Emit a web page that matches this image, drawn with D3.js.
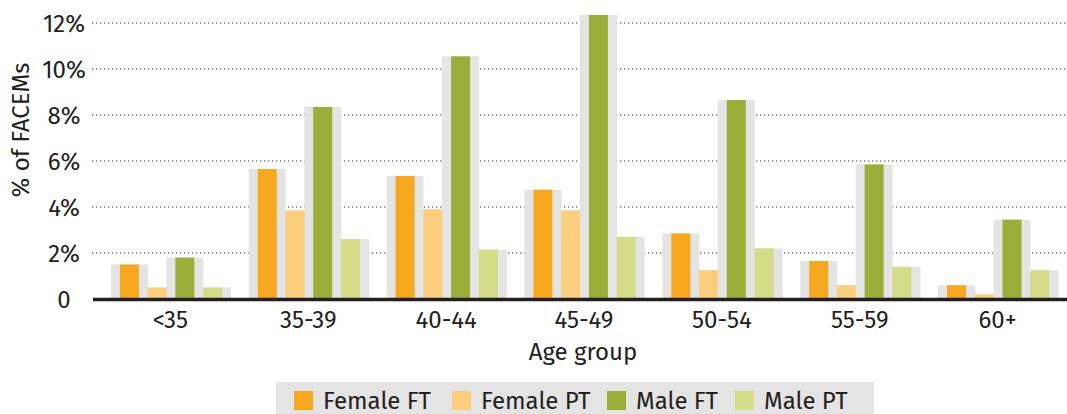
<!DOCTYPE html>
<html><head><meta charset="utf-8">
<script src="https://cdn.jsdelivr.net/npm/d3@7"></script>
<style>
html,body{margin:0;padding:0;background:#fff;}
svg text{font-family:"Fira Sans","Open Sans","Noto Sans",sans-serif;fill:#231f20;}
</style></head>
<body><svg id="c" width="1067" height="414"></svg>
<script>
const categories = ["<35","35-39","40-44","45-49","50-54","55-59","60+"];
const seriesNames = ["Female FT","Female PT","Male FT","Male PT"];
const femaleFT = [1.5, 5.65, 5.35, 4.75, 2.85, 1.65, 0.6];
const femalePT = [0.5, 3.85, 3.9, 3.85, 1.25, 0.6, 0.2];
const maleFT   = [1.8, 8.35, 10.55, 12.35, 8.65, 5.85, 3.45];
const malePT   = [0.5, 2.6, 2.15, 2.7, 2.2, 1.4, 1.25];
const yTicks = [0, 2, 4, 6, 8, 10, 12];
const yTickLabels = ["0","2%","4%","6%","8%","10%","12%"];
const colors = ["#f7a81e","#fccf7e","#9bae3a","#d3dc87"];
const values = [femaleFT, femalePT, maleFT, malePT];
const FS = 24;

const svg = d3.select("#c");
const x0 = d3.scaleBand().domain(categories).range([102, 1067]).padding(0);
const x1 = d3.scaleBand().domain(seriesNames).range([13.5, 124.5]).padding(0);
const y = d3.scaleLinear().domain([0, 12]).range([299, 23]);

// gridlines
svg.append("g").selectAll("line").data(yTicks.filter(d=>d>0)).join("line")
  .attr("x1", 92).attr("x2", 1067)
  .attr("y1", d=>y(d)).attr("y2", d=>y(d))
  .attr("stroke", "#7a7a7a").attr("stroke-width", 1.3)
  .attr("stroke-dasharray", "1.3,2.7");

// y tick labels
svg.append("g").selectAll("text").data(yTicks).join("text")
  .attr("x", 64).attr("y", d=>y(d)+8.5)
  .attr("text-anchor","middle").attr("font-size", FS)
  .text((d,i)=>yTickLabels[i]);

const rows = [];
categories.forEach((c,ci)=>{
  seriesNames.forEach((s,si)=>{
    rows.push({cat:c, series:s, si, v: values[si][ci]});
  });
});
const bw = 19, gw = 37;
const cx = d => x0(d.cat) + x1(d.series) + x1.bandwidth()/2;

svg.append("g").selectAll("rect").data(rows).join("rect")
  .attr("x", d=>cx(d)-gw/2).attr("width", gw)
  .attr("y", d=>y(d.v)).attr("height", d=>y(0)-y(d.v))
  .attr("fill", "#e3e4e3");
svg.append("g").selectAll("rect").data(rows).join("rect")
  .attr("x", d=>cx(d)-bw/2).attr("width", bw)
  .attr("y", d=>y(d.v)).attr("height", d=>y(0)-y(d.v))
  .attr("fill", d=>colors[d.si]);

svg.append("line").attr("x1", 93).attr("x2", 1067).attr("y1", 299.5).attr("y2", 299.5)
  .attr("stroke", "#231f20").attr("stroke-width", 3.5);

svg.append("g").selectAll("text").data(categories).join("text")
  .attr("x", d=>x0(d)+x0.bandwidth()/2 - 0.5).attr("y", 328)
  .attr("text-anchor","middle").attr("font-size", FS).text(d=>d);

svg.append("text").attr("x", 583).attr("y", 360).attr("text-anchor","middle")
  .attr("font-size", FS).text("Age group");

svg.append("text").attr("transform","translate(29,130) rotate(-90)")
  .attr("text-anchor","middle").attr("font-size", FS).text("% of FACEMs");

const lg = svg.append("g");
lg.append("rect").attr("x", 276).attr("y", 382).attr("width", 598).attr("height", 32).attr("fill", "#e3e4e3");
const legX = [294, 452, 607, 735];
seriesNames.forEach((s,i)=>{
  lg.append("rect").attr("x", legX[i]).attr("y", 391).attr("width", 19).attr("height", 19).attr("fill", colors[i]);
  lg.append("text").attr("x", legX[i]+29).attr("y", 409).attr("font-size", FS).text(s);
});
</script></body></html>
